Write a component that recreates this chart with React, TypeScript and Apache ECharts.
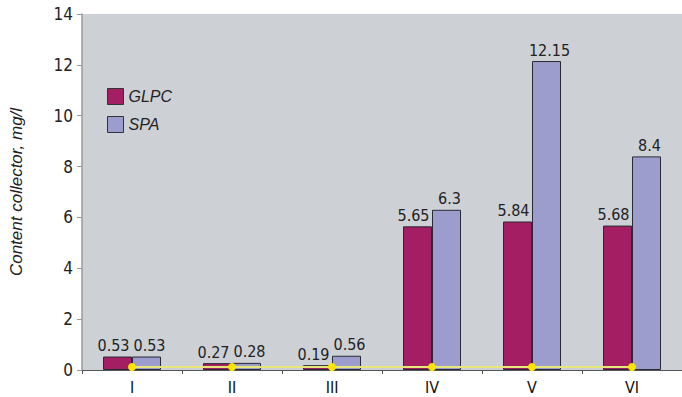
import React, { useEffect, useRef } from "react";
import * as echarts from "echarts";

const categories = ["I", "II", "III", "IV", "V", "VI"];
const glpc = [0.53, 0.27, 0.19, 5.65, 5.84, 5.68];
const spa = [0.53, 0.28, 0.56, 6.3, 12.15, 8.4];
const baseline = [0.12, 0.12, 0.12, 0.12, 0.12, 0.12];
const yTicks = { min: 0, max: 14, interval: 2 };

const FONT = "'Liberation Sans Narrow', 'DejaVu Sans Condensed', Arial, sans-serif";
const ITALIC_FONT = "Arial, 'Liberation Sans', sans-serif";

export default function App() {
  const ref = useRef<HTMLDivElement>(null);
  useEffect(() => {
    if (!ref.current) return;
    const chart = echarts.init(ref.current, null, { renderer: "svg" });
    const barLabel = (dx: number) => ({
      show: true,
      position: "top" as const,
      distance: 3,
      offset: [dx, 0],
      color: "#222",
      fontFamily: FONT,
      fontSize: 16,
    });
    chart.setOption({
      animation: false,
      backgroundColor: "#ffffff",
      textStyle: { fontFamily: FONT },
      grid: {
        left: 81,
        width: 604,
        top: 14,
        bottom: 27,
        show: true,
        backgroundColor: "#cdd1d6",
        borderWidth: 0,
      },
      legend: {
        orient: "vertical",
        left: 102,
        top: 83,
        icon: "rect",
        itemWidth: 16,
        itemHeight: 16,
        itemGap: 11,
        data: ["GLPC", "SPA"],
        itemStyle: { borderColor: "#333", borderWidth: 1 },
        textStyle: {
          fontFamily: ITALIC_FONT,
          fontStyle: "italic",
          fontSize: 16,
          color: "#222",
        },
      },
      xAxis: {
        type: "category",
        data: categories,
        axisLine: { lineStyle: { color: "#555", width: 1 } },
        axisTick: { show: true, length: 4, inside: false, lineStyle: { color: "#555" } },
        axisLabel: { color: "#111", fontSize: 16, fontFamily: FONT, margin: 9 },
      },
      yAxis: {
        type: "value",
        min: yTicks.min,
        max: yTicks.max,
        interval: yTicks.interval,
        name: "Content collector, mg/l",
        nameLocation: "middle",
        nameGap: 57,
        nameTextStyle: {
          fontFamily: ITALIC_FONT,
          fontStyle: "italic",
          fontSize: 17,
          color: "#222",
        },
        axisLine: { show: true, lineStyle: { color: "#999", width: 1.5 } },
        axisTick: { show: true, length: 5, lineStyle: { color: "#999" } },
        splitLine: { show: false },
        axisLabel: { color: "#222", fontSize: 17, fontFamily: FONT, margin: 9 },
      },
      series: [
        {
          name: "GLPC",
          type: "bar",
          data: glpc,
          barWidth: 29,
          barGap: "0%",
          itemStyle: { color: "#a41e63", borderColor: "#2a2a33", borderWidth: 1 },
          label: barLabel(-4),
        },
        {
          name: "SPA",
          type: "bar",
          data: spa,
          barWidth: 29,
          itemStyle: { color: "#9c9ccd", borderColor: "#2a2a33", borderWidth: 1 },
          label: barLabel(3),
        },
        {
          name: "baseline",
          type: "line",
          data: baseline,
          symbol: "circle",
          symbolSize: 8,
          z: 5,
          lineStyle: { color: "#e6e67a", width: 2 },
          itemStyle: { color: "#ffe600" },
        },
      ],
    });
    return () => chart.dispose();
  }, []);
  return <div ref={ref} style={{ width: 682, height: 397, position: "fixed", left: 0, top: 0 }} />;
}
